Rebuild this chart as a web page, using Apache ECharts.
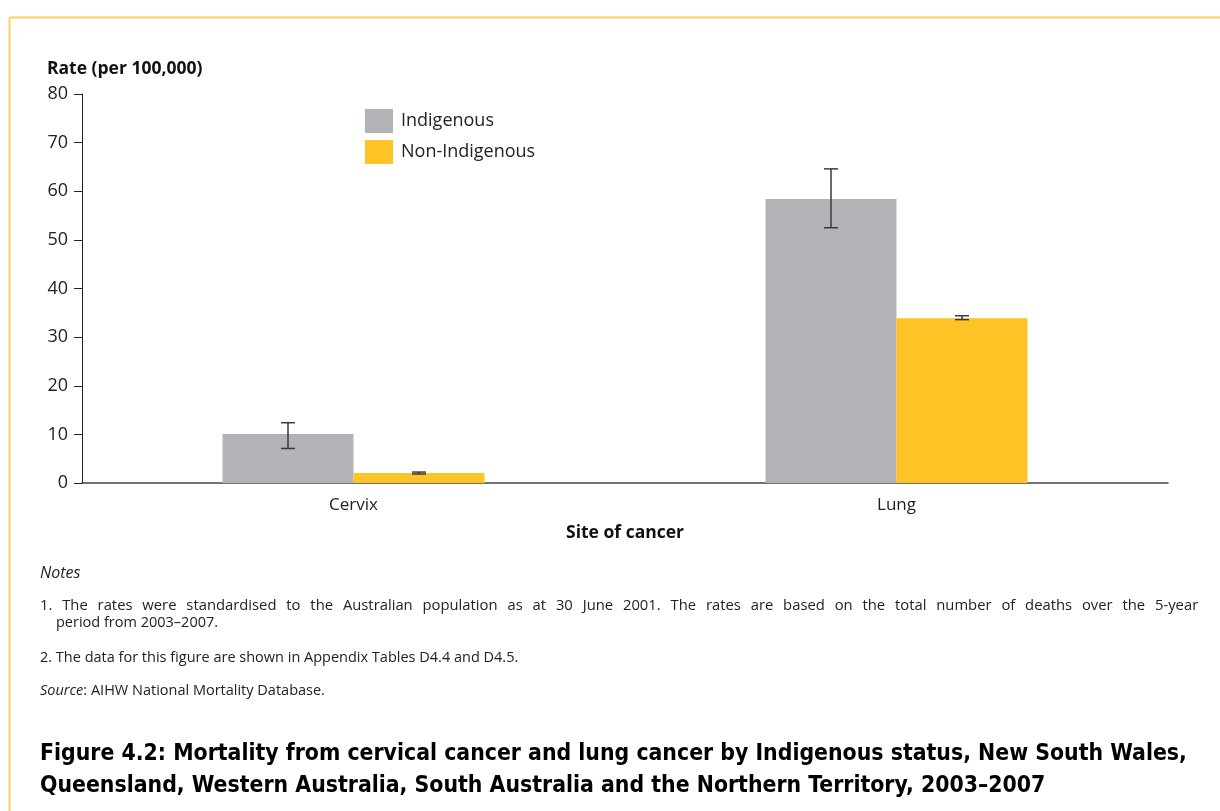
<!DOCTYPE html>
<html>
<head>
<meta charset="utf-8">
<script src="https://cdn.jsdelivr.net/npm/echarts@6/dist/echarts.min.js"></script>
<style>
  html, body { margin: 0; padding: 0; background: #fff; }
  #chart { width: 1220px; height: 811px; }
</style>
</head>
<body>
<div id="chart"></div>
<script>
// data
const sites = ["Cervix", "Lung"];
const seriesNames = ["Indigenous", "Non-Indigenous"];
const indigenous = [10.1, 58.4];
const nonIndigenous = [2.05, 33.9];
// 95% confidence intervals [low, high]
const indigenousCI = [[7.1, 12.4], [52.5, 64.6]];
const nonIndigenousCI = [[1.85, 2.25], [33.6, 34.4]];
const yTicks = [0, 10, 20, 30, 40, 50, 60, 70, 80];

// first note line is justified in the original, so widen its spaces
const noteLines = [
  "1. The rates were standardised to the Australian population as at 30 June 2001. The rates are based on the total number of deaths over the 5-year".replace(/ /g, "\u2002\u2009"),
  "period from 2003\u20132007.",
  "2. The data for this figure are shown in Appendix Tables D4.4 and D4.5."
];
const figTitle = [
  "Figure 4.2: Mortality from cervical cancer and lung cancer by Indigenous status, New South Wales,",
  "Queensland, Western Australia, South Australia and the Northern Territory, 2003\u20132007"
];

const FONT = "'Open Sans', 'Noto Sans', sans-serif";
const CAPTION_FONT = "'DejaVu Sans Condensed', 'Liberation Sans Narrow', sans-serif";
const BAR_W = 131;
const gray = "#b1b3b6";
const yellow = "#fec425";

let myChart = echarts.init(document.getElementById("chart"));

function errData(ci) {
  return ci.map((c, i) => [i, c[0], c[1]]);
}

function errRender(offset) {
  return function (params, api) {
    let lo = api.coord([api.value(0), api.value(1)]);
    let hi = api.coord([api.value(0), api.value(2)]);
    let x = lo[0] + offset;
    let cap = 7;
    let style = { stroke: "#3a3a3a", lineWidth: 1.5 };
    return {
      type: "group",
      children: [
        { type: "line", shape: { x1: x, y1: hi[1], x2: x, y2: lo[1] }, style: style },
        { type: "line", shape: { x1: x - cap, y1: hi[1], x2: x + cap, y2: hi[1] }, style: style },
        { type: "line", shape: { x1: x - cap, y1: lo[1], x2: x + cap, y2: lo[1] }, style: style }
      ]
    };
  };
}

function noteText(left, top, text, extra) {
  return {
    type: "text", left: left, top: top,
    style: Object.assign({ text: text, fontFamily: FONT, fontSize: 14.5, fill: "#222" }, extra || {})
  };
}

let option = {
  animation: false,
  backgroundColor: "#fff",
  textStyle: { fontFamily: FONT },
  title: {
    text: "Rate (per 100,000)",
    left: 42,
    top: 55,
    textStyle: { fontFamily: FONT, fontSize: 17.5, fontWeight: "bold", color: "#111" }
  },
  legend: {
    data: seriesNames,
    orient: "vertical",
    left: 360,
    top: 104,
    itemWidth: 28,
    itemHeight: 24,
    itemGap: 7,
    icon: "rect",
    textStyle: { fontFamily: FONT, fontSize: 18, color: "#222", padding: [0, 0, 0, 3] }
  },
  grid: { left: 82, right: 52, top: 94, bottom: 328 },
  xAxis: {
    type: "category",
    data: sites,
    name: "Site of cancer",
    nameLocation: "middle",
    nameGap: 41,
    nameTextStyle: { fontFamily: FONT, fontSize: 17.5, fontWeight: "bold", color: "#111" },
    axisLine: { lineStyle: { color: "#444", width: 1.5 } },
    axisTick: { show: false },
    axisLabel: { fontFamily: FONT, fontSize: 17, color: "#222", margin: 14 }
  },
  yAxis: {
    type: "value",
    min: yTicks[0],
    max: yTicks[yTicks.length - 1],
    interval: 10,
    axisLine: { show: true, lineStyle: { color: "#222", width: 1 } },
    axisTick: { show: true, length: 8, lineStyle: { color: "#222" } },
    axisLabel: { fontFamily: FONT, fontSize: 18, color: "#222", margin: 14 },
    splitLine: { show: false }
  },
  series: [
    {
      name: seriesNames[0],
      type: "bar",
      barWidth: BAR_W,
      barGap: "0%",
      itemStyle: { color: gray },
      data: indigenous
    },
    {
      name: seriesNames[1],
      type: "bar",
      barWidth: BAR_W,
      barGap: "0%",
      itemStyle: { color: yellow },
      data: nonIndigenous
    },
    {
      type: "custom",
      renderItem: errRender(-BAR_W / 2),
      data: errData(indigenousCI),
      z: 10
    },
    {
      type: "custom",
      renderItem: errRender(BAR_W / 2),
      data: errData(nonIndigenousCI),
      z: 10
    }
  ],
  graphic: [
    // frame
    { type: "line", shape: { x1: 9.5, y1: 17.5, x2: 1220, y2: 17.5 }, style: { stroke: "#fecf5c", lineWidth: 2 } },
    { type: "line", shape: { x1: 9.5, y1: 17.5, x2: 9.5, y2: 811 }, style: { stroke: "#fecf5c", lineWidth: 2 } },
    // notes
    noteText(40, 565, "Notes", { fontStyle: "italic", fontSize: 16 }),
    noteText(40, 598, noteLines[0], { fontSize: 14.8 }),
    noteText(56, 615, noteLines[1]),
    noteText(40, 650, noteLines[2]),
    noteText(40, 683, "{i|Source}: AIHW National Mortality Database.", {
      rich: { i: { fontStyle: "italic", fontSize: 14.5, fontFamily: FONT, fill: "#222" } }
    }),
    // figure caption
    { type: "text", left: 40, top: 743, style: { text: figTitle[0], fontFamily: CAPTION_FONT, fontWeight: "bold", fontSize: 22.8, fill: "#000" } },
    { type: "text", left: 40, top: 775, style: { text: figTitle[1], fontFamily: CAPTION_FONT, fontWeight: "bold", fontSize: 22.8, fill: "#000" } }
  ]
};

myChart.setOption(option);
window.addEventListener("resize", () => myChart.resize(), false);
</script>
</body>
</html>
